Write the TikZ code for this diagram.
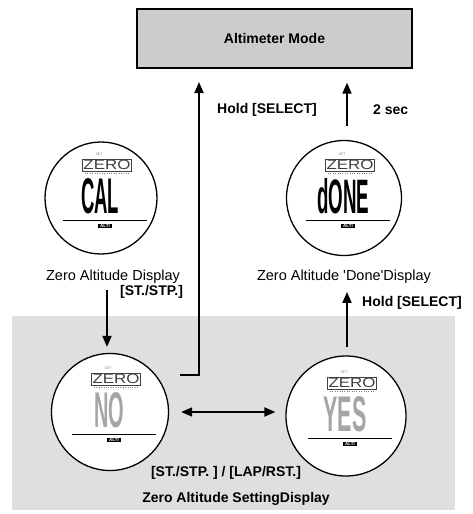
\documentclass[tikz,border=0pt]{standalone}
\usepackage{fontspec}
\usepackage{graphicx}
\setmainfont{Liberation Sans}
\usetikzlibrary{arrows.meta}

\definecolor{boxgray}{RGB}{204,204,204}
\definecolor{areagray}{RGB}{223,223,223}
\definecolor{lcdgray}{RGB}{165,165,165}

\tikzset{
   face/.style={circle, draw, line width=1.3pt, fill=white, inner sep=0pt},
   flow/.style={line width=1.8pt, -{Triangle[width=9pt, length=11pt]}},
   lbl/.style={font=\fontsize{14.5}{16}\selectfont, inner sep=0pt},
   keylbl/.style={font=\fontsize{14}{16}\selectfont\bfseries, inner sep=0pt},
}

\begin{document}
\begin{tikzpicture}[x=1pt, y=-1pt]
   \useasboundingbox (0,0) rectangle (473,514);
   \fill[areagray] (12,316) rectangle (455,510);
   \node[draw, line width=1.3pt, fill=boxgray, minimum width=275pt, minimum height=59pt, keylbl] (mode) at (274.5,38.5) {Altimeter Mode};
   \node[face, minimum size=112pt] (cal) at (101,198) {};
   \node[face, minimum size=115pt] (done) at (344,198) {};
   \node[face, minimum size=117pt] (no) at (110,412) {};
   \node[face, minimum size=120pt] (yes) at (346,416) {};
   \foreach \nm/\word/\wordw/\col in {cal/CAL/38/black, done/dONE/52/black, no/NO/30/lcdgray, yes/YES/43/lcdgray} {
      \begin{scope}[shift={(\nm.center)}]
         \node[font=\fontsize{3.5}{4}\selectfont, text=gray, inner sep=0pt] (\nm-set) at (-2,-44) {SET};
         \node[draw=darkgray, line width=0.8pt, inner sep=1.2pt, text=darkgray] (\nm-zero) at (6,-33) {\resizebox{47pt}{9.5pt}{ZERO}};
         \draw[dotted, gray] (-16,-25) -- (28,-25);
         \node[text=\col, inner sep=0pt] (\nm-word) at (-1,-2) {\resizebox{\wordw pt}{35pt}{\bfseries \word}};
         \draw[line width=0.8pt] (-38,22) -- (46,22);
         \node[fill=black, text=white, font=\fontsize{4.5}{5}\selectfont\bfseries, inner xsep=2pt, inner ysep=0.6pt] (\nm-alti) at (4,28) {ALTI};
      \end{scope}
   }
   \node[lbl] (callbl) at (113,277) {Zero Altitude Display};
   \node[keylbl, anchor=west] (stplbl) at (120,292) {[ST./STP.]};
   \node[lbl] (donelbl) at (344,277) {Zero Altitude \textquotesingle Done\textquotesingle Display};
   \node[keylbl, anchor=west] (holdlow) at (362,303) {Hold [SELECT]};
   \node[keylbl, anchor=west] (holdtop) at (217,110) {Hold [SELECT]};
   \node[keylbl, anchor=west] (seclbl) at (373,110) {2 sec};
   \node[keylbl] (switchlbl) at (226,473) {[ST./STP. ] / [LAP/RST.]};
   \node[keylbl] (setlbl) at (236,499) {Zero Altitude SettingDisplay};
   \coordinate (noout) at (180,375);
   \coordinate (upline) at (199,68);
   \draw[flow, shorten <=6pt, shorten >=6pt] ([xshift=-3pt]no.north |- callbl.south) -- ([xshift=-3pt]no.north);
   \draw[flow, shorten >=14pt] (noout) -| (upline);
   \draw[line width=1.8pt, {Triangle[width=9pt, length=11pt]}-{Triangle[width=9pt, length=11pt]}, shorten <=12pt, shorten >=10pt] (no.east) -- (no.east -| yes.west);
   \draw[flow, shorten <=8pt, shorten >=8pt] ([xshift=1pt]yes.north) -- ([xshift=1pt]yes.north |- donelbl.south);
   \draw[flow, shorten <=14pt, shorten >=14pt] ([xshift=3pt]done.north) -- ([xshift=3pt]done.north |- mode.south);
\end{tikzpicture}
\end{document}
